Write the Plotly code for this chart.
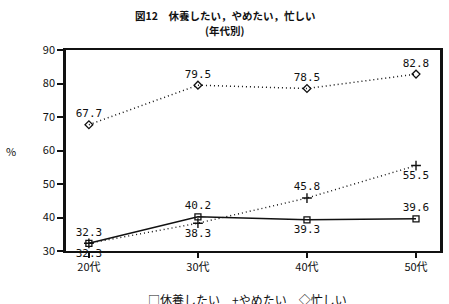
import plotly.graph_objects as go

categories = ["20代", "30代", "40代", "50代"]
kyuyou = [32.3, 40.2, 39.3, 39.6]
yametai = [32.3, 38.3, 45.8, 55.5]
isogashii = [67.7, 79.5, 78.5, 82.8]
y_ticks = [30, 40, 50, 60, 70, 80, 90]

kyuyou_pos = ["top center", "top center", "bottom center", "top center"]
yametai_pos = ["bottom center", "bottom center", "top center", "bottom center"]

FONT = "Noto Sans CJK JP"
NUMF = dict(family="DejaVu Sans Mono", size=11, color="#111")
DOTS = "1px,3px"

fig = go.Figure()
x = list(range(len(categories)))
fig.add_trace(go.Scatter(
    x=x, y=isogashii, mode="lines+markers+text", name="忙しい",
    line=dict(color="#111", width=1.5, dash=DOTS),
    marker=dict(symbol="diamond-open", size=6, color="#111", line=dict(width=1.3)),
    text=[f"{v:.1f}" for v in isogashii], textposition="top center", textfont=NUMF,
    cliponaxis=False))
fig.add_trace(go.Scatter(
    x=x, y=yametai, mode="lines+markers+text", name="やめたい",
    line=dict(color="#111", width=1.4, dash=DOTS),
    marker=dict(symbol="cross-thin-open", size=7, color="#111", line=dict(width=1.4, color="#111")),
    text=[f"{v:.1f}" for v in yametai], textposition=yametai_pos, textfont=NUMF,
    cliponaxis=False))
fig.add_trace(go.Scatter(
    x=x, y=kyuyou, mode="lines+markers+text", name="休養したい",
    line=dict(color="#111", width=1.5),
    marker=dict(symbol="square-open", size=6, color="#111", line=dict(width=1.3)),
    text=[f"{v:.1f}" for v in kyuyou], textposition=kyuyou_pos, textfont=NUMF,
    cliponaxis=False))

fig.update_layout(
    width=449, height=304,
    margin=dict(l=66, r=6, t=50, b=53),
    paper_bgcolor="white", plot_bgcolor="white",
    showlegend=False,
    font=dict(family=FONT, size=11, color="#111"),
    xaxis=dict(range=[-0.21, 3.22], tickvals=x, ticktext=categories,
               showgrid=False, zeroline=False, showline=True, linecolor="#111", linewidth=2,
               mirror=True, ticks="outside", ticklen=5, tickcolor="#111", tickwidth=1.5,
               tickfont=dict(family=FONT, size=11)),
    yaxis=dict(range=[30, 90], tickvals=y_ticks,
               showgrid=False, zeroline=False, showline=True, linecolor="#111", linewidth=2.5,
               mirror=True, ticks="outside", ticklen=6, tickcolor="#111", tickwidth=1.5,
               tickfont=dict(family=FONT, size=11)),
    annotations=[
        dict(text="<b>図12　休養したい，やめたい，忙しい</b>", x=0.425, y=1.174,
             xref="paper", yref="paper", yanchor="middle", showarrow=False,
             font=dict(family=FONT, size=10.5)),
        dict(text="<b>(年代別)</b>", x=0.425, y=1.095,
             xref="paper", yref="paper", yanchor="middle", showarrow=False,
             font=dict(family=FONT, size=10.5)),
        dict(text="%", x=-0.165, y=0.5, xref="paper", yref="paper", showarrow=False,
             font=dict(family=FONT, size=11)),
        dict(text="□休養したい　+やめたい　◇忙しい", x=0.485, y=0, xref="paper", yref="paper",
             yanchor="top", yshift=-38, showarrow=False, font=dict(family=FONT, size=12)),
    ],
)

fig.write_html("out.html")
